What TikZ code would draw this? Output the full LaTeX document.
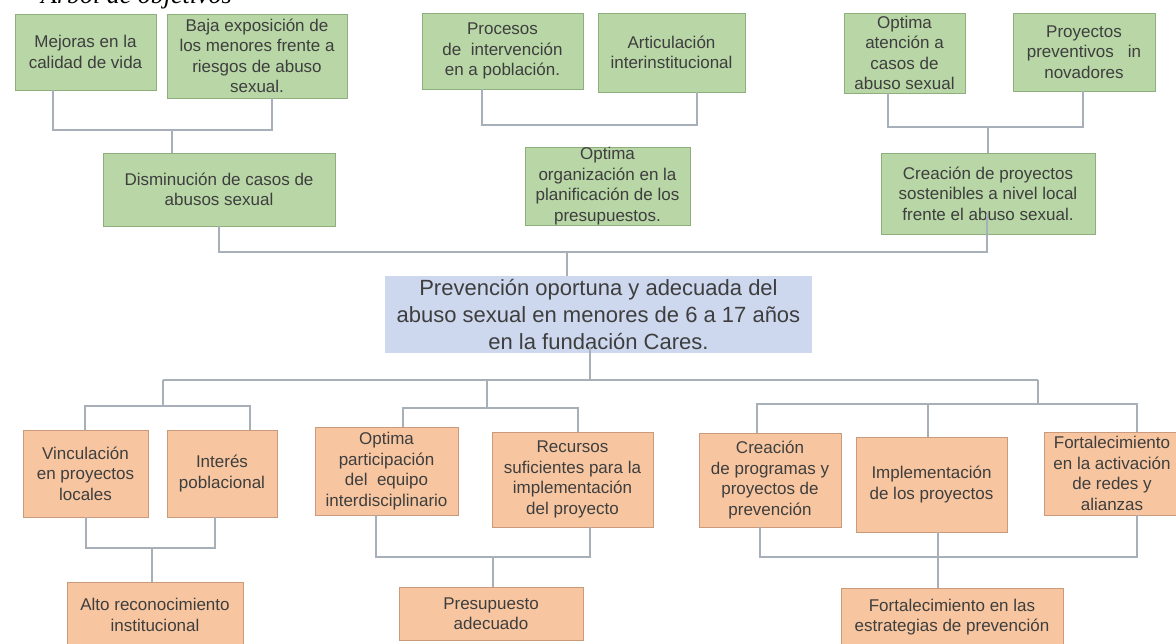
\documentclass[tikz,border=0pt]{standalone}
\usepackage{fontspec}
\setmainfont{Liberation Sans}
\newfontfamily\titlefont{Liberation Serif}

\definecolor{goalfill}{HTML}{B8D6A6}
\definecolor{goalline}{HTML}{8DAF7C}
\definecolor{causefill}{HTML}{F7C6A0}
\definecolor{causeline}{HTML}{C99A7C}
\definecolor{mainfill}{HTML}{CDD8EE}
\definecolor{linkgray}{HTML}{A7AFB8}
\definecolor{boxtext}{HTML}{3E3E3E}

\tikzset{
  goal/.style={draw=goalline, fill=goalfill, line width=0.8pt, inner sep=0pt,
    align=center, text=boxtext, font=\fontsize{17}{20.5}\selectfont},
  cause/.style={draw=causeline, fill=causefill, line width=0.8pt, inner sep=0pt,
    align=center, text=boxtext, font=\fontsize{17}{20.5}\selectfont},
  central/.style={fill=mainfill, inner sep=0pt, align=center, text=boxtext,
    font=\fontsize{22}{27}\selectfont},
  boxsize/.style 2 args={minimum width=#1pt, minimum height=#2pt},
  link/.style={draw=linkgray, line width=1.1pt}
}

\begin{document}
\begin{tikzpicture}[x=1pt,y=-1pt]
    \useasboundingbox (0,0) rectangle (1176,643);
    \fill[white] (0,0) rectangle (1176,643);

    \node[anchor=base west, inner sep=0pt,
      font=\titlefont\itshape\fontsize{26}{30}\selectfont] (title) at (41,3) {Árbol de objetivos};

    \node[goal, boxsize={141}{76}] (g1) at (85.5,52) {Mejoras en la\\calidad de vida};
    \node[goal, boxsize={180}{84}] (g2) at (257,56) {Baja exposición de\\los menores frente a\\riesgos de abuso\\sexual.};
    \node[goal, boxsize={161}{76}] (g3) at (502.5,51) {Procesos\\de\ \ intervención\\en a población.};
    \node[goal, boxsize={147}{79}] (g4) at (671.5,52.5) {Articulación\\interinstitucional};
    \node[goal, boxsize={121}{80}] (g5) at (904.5,53) {Optima\\atención a\\casos de\\abuso sexual};
    \node[goal, boxsize={142}{78}] (g6) at (1084,52) {Proyectos\\preventivos\ \ \ in\\novadores};

    \node[goal, boxsize={232}{73}] (d1) at (219,189.5) {Disminución de casos de\\abusos sexual};
    \node[goal, boxsize={165}{78}] (gm) at (607.5,186) {Optima\\organización en la\\planificación de los\\presupuestos.};
    \node[goal, boxsize={214}{81}] (cr) at (988,193.5) {Creación de proyectos\\sostenibles a nivel local\\frente el abuso sexual.};

    \node[central, boxsize={427}{77}] (blue) at (598.5,314.5) {Prevención oportuna y adecuada del\\abuso sexual en menores de 6 a 17 años\\en la fundación Cares.};

    \node[cause, boxsize={125}{87}] (o1) at (85.5,473.5) {Vinculación\\en proyectos\\locales};
    \node[cause, boxsize={110}{87}] (o2) at (222,473.5) {Interés\\poblacional};
    \node[cause, boxsize={143}{88}] (o3) at (386.5,471) {Optima\\participación\\del\ \ equipo\\interdisciplinario};
    \node[cause, boxsize={161}{95}] (o4) at (572.5,479.5) {Recursos\\suficientes para la\\implementación\\del proyecto};
    \node[cause, boxsize={142}{94}] (o5) at (770,480) {Creación\\de programas y\\proyectos de\\prevención};
    \node[cause, boxsize={151}{95}] (o6) at (931.5,484.5) {Implementación\\de los proyectos};
    \node[cause, boxsize={136}{83}] (o7) at (1112,473.5) {Fortalecimiento\\en la activación\\de redes y\\alianzas};

    \node[cause, boxsize={176}{66}] (b1) at (155,615) {Alto reconocimiento\\institucional};
    \node[cause, boxsize={184}{53}] (b2) at (491,613.5) {Presupuesto\\adecuado};
    \node[cause, boxsize={222}{58}] (b3) at (952,617) {Fortalecimiento en las\\estrategias de prevención};

    \coordinate (j1) at (172,130);
    \coordinate (j2) at (482,125);
    \coordinate (j3) at (988,127);
    \coordinate (j4) at (567,252);
    \draw[link] ([xshift=-32.5pt]g1.south) |- (j1) -| ([xshift=15pt]g2.south);
    \draw[link] (j1) -- (j1 |- d1.north);
    \draw[link] ([xshift=-20.5pt]g3.south) -- (j2) -| ([xshift=25.5pt]g4.south);
    \draw[link] ([xshift=-16.5pt]g5.south) |- (j3) -| ([xshift=-1pt]g6.south);
    \draw[link] (j3) -- (cr.north);
    \draw[link] (d1.south) |- (j4) -| ([xshift=-1pt,yshift=20pt]cr.south);
    \draw[link] (j4) -- (j4 |- blue.north);

    \coordinate (t0) at (590,380);
    \coordinate (t1) at (163,380);
    \coordinate (t2) at (1038,380);
    \coordinate (t3) at (487,380);
    \coordinate (s1) at (163,406);
    \coordinate (s2) at (487,408);
    \coordinate (s3) at (1038,404);
    \coordinate (s4) at (928,404);
    \draw[link] ([xshift=-8.5pt,yshift=5pt]blue.south) -- (t0);
    \draw[link] (t1) -- (t2);
    \draw[link] (t1) -- (s1);
    \draw[link] ([xshift=-0.5pt]o1.north) |- (s1) -| ([xshift=28pt]o2.north);
    \draw[link] (t3) -- (s2);
    \draw[link] ([xshift=16.5pt]o3.north) |- (s2) -| ([xshift=5.5pt]o4.north);
    \draw[link] (t2) -- (s3);
    \draw[link] ([xshift=-13pt]o5.north) |- (s3) -| ([xshift=25pt]o7.north);
    \draw[link] (s4) -- (s4 |- o6.north);

    \coordinate (u1) at (152,548);
    \coordinate (u2) at (493,557);
    \coordinate (u3) at (938,557);
    \draw[link] ([xshift=0.5pt]o1.south) |- (u1) -| ([xshift=-7pt]o2.south);
    \draw[link] (u1) -- (u1 |- b1.north);
    \draw[link] ([xshift=-10.5pt]o3.south) |- (u2) -| ([xshift=17.5pt]o4.south);
    \draw[link] (u2) -- (u2 |- b2.north);
    \draw[link] ([xshift=-10pt]o5.south) |- (u3) -| ([xshift=25pt]o7.south);
    \draw[link] ([xshift=6.5pt]o6.south) -- (u3 |- b3.north);
\end{tikzpicture}
\end{document}
